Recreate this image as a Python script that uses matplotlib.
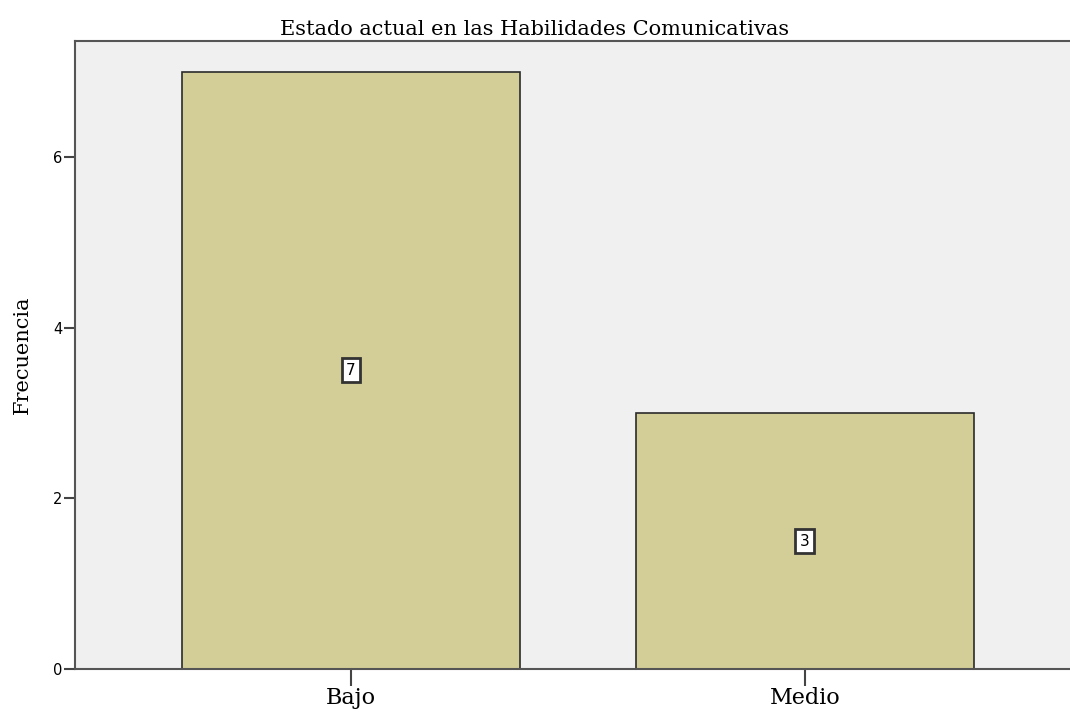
import matplotlib
matplotlib.use('Agg')
import matplotlib.pyplot as plt

categories = ['Bajo', 'Medio']
counts = [7, 3]
title = 'Estado actual en las Habilidades Comunicativas'

fig = plt.figure(figsize=(10.7, 7.12), dpi=100)
ax = fig.add_axes([75 / 1070, 1 - 669 / 712, 1 - 75 / 1070, (669 - 41) / 712])
ax.set_facecolor('#f0f0f0')

x = list(range(len(categories)))
ax.bar(x, counts, width=0.745, color='#d3ce97', edgecolor='#2b2b2b', linewidth=1.2, zorder=2)

# value labels in the middle of each bar
for xi, c in zip(x, counts):
    ax.text(xi, c / 2, str(c), ha='center', va='center', fontsize=11, family='DejaVu Sans',
            bbox=dict(boxstyle='square,pad=0.3', fc='white', ec='#333333', lw=2), zorder=3)

ax.set_xlim(-0.608, 1.584)
ax.set_ylim(0, 7.36)
ax.set_yticks([0, 2, 4, 6])
ax.set_xticks(x)
ax.set_xticklabels(categories, family='DejaVu Serif', fontsize=16)
ax.tick_params(axis='x', length=12, width=1.5, color='#444444', pad=1)
ax.tick_params(axis='y', length=8, width=1.5, color='#444444', labelsize=10.5, pad=1)

for s in ['left', 'bottom', 'top']:
    ax.spines[s].set_color('#555555')
    ax.spines[s].set_linewidth(1.5)
ax.spines['right'].set_visible(False)

ax.set_ylabel('Frecuencia', family='DejaVu Serif', fontsize=15)
ax.yaxis.set_label_coords(-43 / 995, 0.5)
# title is centred on the figure, not on the axes
ax.set_title(title, family='DejaVu Serif', fontsize=15, pad=4, x=(535 - 75) / 995)

fig.savefig('out.png', dpi=100)
